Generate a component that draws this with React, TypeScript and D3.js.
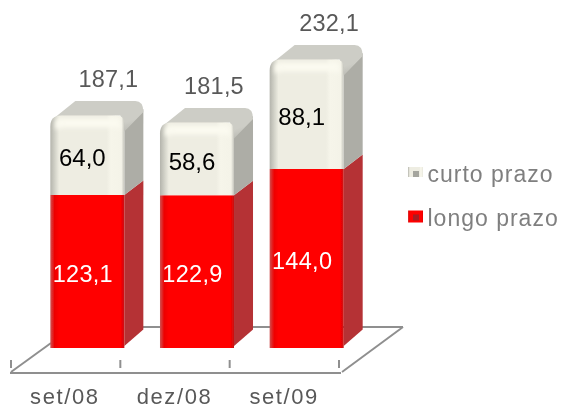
import React from "react";
import * as d3 from "d3";

const categories = ["set/08", "dez/08", "set/09"];
const longoPrazo = [123.1, 122.9, 144.0];
const curtoPrazo = [64.0, 58.6, 88.1];
const totals = [187.1, 181.5, 232.1];
const legendLabels = ["curto prazo", "longo prazo"];

const fmt = (v: number) => v.toFixed(1).replace(".", ",");
const W = 561, H = 409;
const floorY = 348;
const y = d3.scaleLinear().domain([0, 100]).range([floorY, floorY - 124.3]);
const x = d3.scaleBand<string>().domain(categories).range([32.5, 361.5]).paddingInner(0.325).paddingOuter(0.1625);
const ticks = d3.scalePoint<number>().domain([0, 1, 2, 3]).range([11, 339]);
const dx = 19, dy = 14.5;
const font = "'Liberation Sans', Arial, sans-serif";
const totalNudge = [1, -3, 2.5];

function Bar({ cat, lo, cu, total, i }: { cat: string; lo: number; cu: number; total: number; i: number }) {
  const x0 = x(cat)!;
  const w = x.bandwidth();
  const x1 = x0 + w;
  const yLo = y(lo);
  const yTop = y(lo + cu);
  const r = 8;
  return (
    <g>
      {/* right faces */}
      <polygon points={`${x1},${floorY - 2} ${x1 + dx},${floorY - dy - 4} ${x1 + dx},${yLo - dy} ${x1},${yLo}`} fill="#b53234" />
      <path d={`M${x1},${yLo} L${x1 + dx},${yLo - dy} L${x1 + dx},${yTop - dy + r} L${x1},${yTop + r}Z`} fill="#adada6" />
      {/* top face */}
      <path d={`M${x0 + 2},${yTop + 4} L${x0 + dx + 6},${yTop - dy} L${x1 + dx - 8},${yTop - dy} Q${x1 + dx},${yTop - dy} ${x1 + dx},${yTop - dy + 11} L${x1},${yTop + 16} L${x1 - 4},${yTop}Z`} fill="url(#topFace)" />
      {/* front faces */}
      <rect x={x0} y={yLo} width={w} height={floorY - yLo} fill="url(#redFront)" />
      <path d={`M${x0},${yLo} L${x0},${yTop + r + 3} Q${x0},${yTop} ${x0 + r + 3},${yTop} L${x1 - r},${yTop} Q${x1},${yTop} ${x1},${yTop + r} L${x1},${yLo}Z`} fill="url(#creamFront)" />
      <path d={`M${x0 + 5},${yTop + 14} L${x0 + 5},${yTop + 7} Q${x0 + 5},${yTop + 3} ${x0 + r + 3},${yTop + 3} L${x1 - r},${yTop + 3} Q${x1 - 4},${yTop + 3} ${x1 - 4},${yTop + 7} L${x1 - 4},${yTop + 14} Q${x1 - 9},${yTop + 11} ${x1 - 14},${yTop + 12} L${x0 + 12},${yTop + 12}Z`} fill="#fbfaf0" filter="url(#soft)" />
      {/* labels */}
      <text x={x0 + 32.5} y={(yLo + floorY) / 2 + 10.5} textAnchor="middle" fill="#fff" fontSize={23.5} letterSpacing={0.3}>{fmt(lo)}</text>
      <text x={x0 + 32} y={(yLo + yTop) / 2 + 11} textAnchor="middle" fill="#000" fontSize={24}>{fmt(cu)}</text>
      <text x={x0 + 57 + totalNudge[i]} y={yTop - 28} textAnchor="middle" fill="#595959" fontSize={23.5} letterSpacing={0.2}>{fmt(total)}</text>
    </g>
  );
}

export default function App() {
  return (
    <svg width={W} height={H} viewBox={`0 0 ${W} ${H}`} style={{ position: "absolute", left: 0, top: 0, background: "#fff" }} fontFamily={font}>
      <defs>
        <filter id="soft" x="-20%" y="-30%" width="140%" height="160%"><feGaussianBlur stdDeviation="2" /></filter>
        <filter id="ref" x="-2%" y="-2%" width="104%" height="104%"><feGaussianBlur stdDeviation="0.45" /></filter>
        <linearGradient id="topFace" x1="0" x2="1" y1="0" y2="1">
          <stop offset="0" stopColor="#cdcdc6" />
          <stop offset="0.75" stopColor="#cdcdc6" />
          <stop offset="1" stopColor="#b2b2ab" />
        </linearGradient>
        <linearGradient id="redFront" x1="0" x2="1" y1="0" y2="0">
          <stop offset="0" stopColor="#d05050" />
          <stop offset="0.06" stopColor="#ee0000" />
          <stop offset="0.12" stopColor="#ff0000" />
          <stop offset="0.95" stopColor="#ff0000" />
          <stop offset="1" stopColor="#c80c10" />
        </linearGradient>
        <linearGradient id="creamFront" x1="0" x2="1" y1="0" y2="0">
          <stop offset="0" stopColor="#b4b4ac" />
          <stop offset="0.07" stopColor="#d6d6cc" />
          <stop offset="0.12" stopColor="#eeede2" />
          <stop offset="0.76" stopColor="#eeede2" />
          <stop offset="0.82" stopColor="#f6f5ea" />
          <stop offset="0.96" stopColor="#f4f3e8" />
          <stop offset="1" stopColor="#c4c4bc" />
        </linearGradient>
      </defs>

      <g filter="url(#ref)">
        {/* floor */}
        <g stroke="#8f8f8f" strokeWidth={2} fill="none">
          <line x1={10} y1={373} x2={341} y2={373} />
          <line x1={11} y1={372} x2={51} y2={343} />
          <line x1={342} y1={372} x2={403} y2={327} />
          <line x1={143} y1={327} x2={403} y2={327} />
          {ticks.domain().map((t) => (
            <line key={t} x1={ticks(t)} x2={ticks(t)} y1={360} y2={368} />
          ))}
        </g>

        {categories.map((c, i) => (
          <Bar key={c} cat={c} i={i} lo={longoPrazo[i]} cu={curtoPrazo[i]} total={totals[i]} />
        ))}

        {categories.map((c) => (
          <text key={c} x={x(c)! + 14.5} y={404} textAnchor="middle" fill="#595959" fontSize={22} letterSpacing={1.6}>{c}</text>
        ))}

        {/* legend */}
        {legendLabels.map((l, i) => (
          <g key={l}>
            <rect x={408} y={167 + i * 43.5} width={15} height={i === 0 ? 10 : 12} fill={i === 0 ? "url(#creamFront)" : "url(#redFront)"} />
            <rect x={413} y={171 + i * 43.5} width={6} height={6} fill={i === 0 ? "#a5a59e" : "#a81c20"} />
            <text x={427.5} y={181.5 + i * 44} fill="#7f7f7f" fontSize={23} letterSpacing={1}>{l}</text>
          </g>
        ))}
      </g>
    </svg>
  );
}
